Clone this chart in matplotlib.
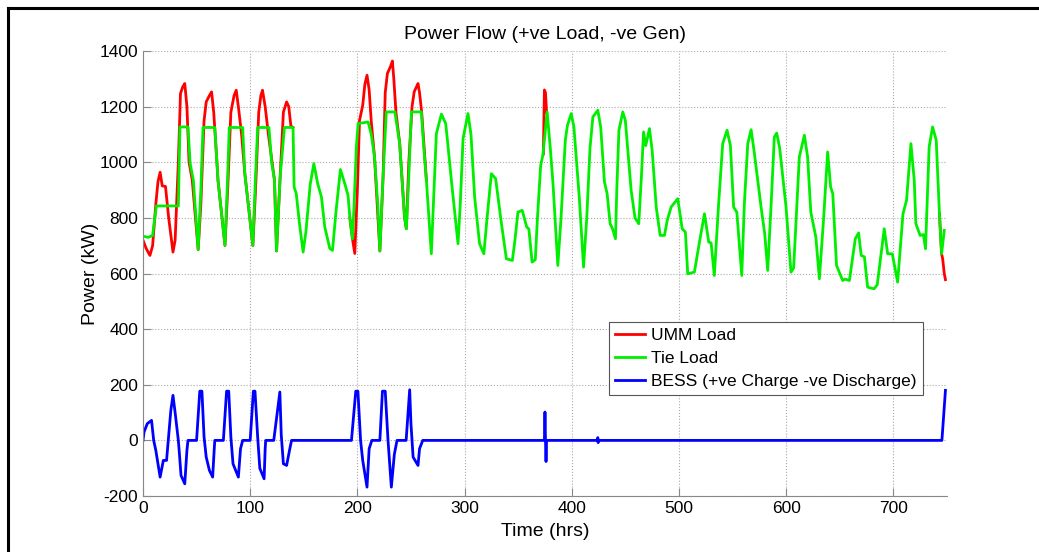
import matplotlib
matplotlib.use("Agg")
import matplotlib.pyplot as plt
from matplotlib.lines import Line2D
import numpy as np

plt.rcParams['font.family'] = ['Liberation Sans', 'DejaVu Sans']
plt.rcParams['axes.unicode_minus'] = False

# Tie Load (kW) - key points (time hrs, power kW)
tie_t = [0, 5, 9, 11, 12.5, 33, 34.5, 42, 44, 47, 51.5, 54, 56, 67, 70, 76.5, 79, 80.5, 93, 95,
         102.5, 105, 107, 117.5, 120, 122.7, 124.6, 128, 132, 140, 141, 143, 146, 149.4, 152, 156,
         159.4, 163, 166.5, 169.6, 174.3, 176.8, 180, 184.2, 188.3, 191.3, 193, 195.4, 197, 199,
         200.7, 210, 213, 216, 219, 221, 224, 227, 235, 239.5, 244, 245.7, 248, 250.4, 259.7, 262,
         264.4, 269, 272, 273.7, 278.4, 282.4, 284, 287.7, 293.9, 296, 298.6, 303.2, 306, 309.4,
         314, 318, 321, 325, 329, 334, 339, 344.6, 347, 349.8, 353.8, 358, 360, 363, 366, 368,
         371, 373, 375, 377, 380, 382.5, 387, 390, 394, 396, 399.5, 402, 407, 411, 414, 417,
         419.7, 424.3, 427, 430.5, 433, 435.8, 438, 440.8, 442, 444, 447.6, 450, 455.4, 459,
         462.5, 465, 467, 469, 472.5, 475, 478.8, 482.5, 486.5, 489, 492.7, 498.9, 503, 506,
         508.2, 514.4, 519, 523.8, 527.8, 530, 533, 537, 540.8, 544.9, 548, 551, 554, 558.6,
         561, 564.2, 567.3, 570, 576.6, 580, 582.8, 586, 589, 591.2, 594, 599.9, 604.5, 607,
         610, 612.3, 617, 620, 623, 627.7, 631, 635, 638.7, 641.5, 643.5, 647, 652.7, 655, 659,
         664.5, 667.6, 670, 673, 676, 682, 685, 687.4, 691.5, 694.7, 699, 704, 709, 712.3,
         716.4, 719.5, 721, 725, 728, 730, 733.4, 736.6, 740, 743, 745, 747.5]
tie_p = [734, 730, 737, 800, 843, 843, 1127, 1127, 996, 935, 686, 900, 1125, 1125, 935, 701, 950, 1125, 1125, 960,
         701, 950, 1125, 1125, 1000, 935, 681, 950, 1125, 1125, 911, 887, 780, 677, 750, 920,
         995, 923, 875, 767, 690, 683, 820, 974, 923, 881, 800, 725, 850, 1050,
         1139, 1145, 1100, 1019, 850, 681, 950, 1181, 1181, 1067, 803, 761, 950, 1181, 1181, 1050,
         935, 671, 950, 1103, 1173, 1139, 1080, 935, 707, 850, 1085, 1175, 1100, 875,
         707, 671, 800, 959, 941, 791, 653, 647, 720, 821, 827, 767, 760, 641, 650, 800,
         989, 1025, 1100, 1181, 1050, 923, 629, 800, 1080, 1133, 1175, 1127, 875, 623, 800, 1050,
         1163, 1187, 1127, 929, 887, 779, 761, 725, 900, 1115, 1181, 1150, 899, 800,
         779, 950, 1109, 1060, 1121, 1043, 839, 737, 737, 790, 839, 869, 761, 749,
         599, 605, 710, 815, 713, 710, 593, 850, 1067, 1115, 1060, 839, 820, 593,
         850, 1067, 1117, 1043, 839, 743, 611, 850, 1091, 1105, 1050, 839, 605, 620,
         850, 1019, 1097, 1020, 821, 731, 581, 800, 1037, 911, 887, 629, 575, 580, 575,
         725, 746, 665, 660, 551, 545, 560, 635, 761, 671, 671, 569, 815, 863,
         1067, 935, 779, 737, 740, 689, 1055, 1127, 1079, 815, 671, 755]

# UMM Load (kW) - only where it departs from the tie load (NaN = gap)
umm_t = [0, 3, 6.5, 9, 12, 14, 16, 18, 21, 24, 28, 30, 33, 35, 37, 39, 41, 43, 46, 51.5, 54, 57,
         59, 62, 64, 66, 69, 70, 76.5, 79, 82, 85, 87, 89, 92, 95, 102.5, 105, 108, 110, 111.5,
         114, 117, 122.7, 124.6, 128, 131, 134, 136, 138, 140, np.nan,
         193, 195.4, 197.6, 200, 202, 205, 207, 209, 211, 213, 216, 221, 224, 226, 228, 231,
         232.7, 234, 236, 239.5, 244, 245.7, 248, 251, 253, 255, 256.6, 258, 260, 264.4, np.nan,
         373.5, 374.5, 375.5, 376.5, np.nan,
         743, 745, 746, 747.5, 748.6]
umm_p = [720, 690, 665, 700, 850, 930, 964, 915, 913, 800, 677, 720, 1000, 1247, 1270, 1283, 1200, 1000, 935, 686, 850, 1150,
         1217, 1240, 1253, 1180, 1000, 935, 701, 900, 1180, 1240, 1259, 1200, 1100, 960, 701, 900, 1180, 1240, 1259,
         1200, 1100, 935, 681, 950, 1180, 1217, 1200, 1130, 1125, np.nan,
         800, 725, 672, 900, 1150, 1205, 1280, 1313, 1260, 1145, 1019, 681, 950, 1250, 1319, 1345,
         1364, 1300, 1180, 1067, 803, 761, 1000, 1200, 1253, 1270, 1283, 1250, 1180, 935, np.nan,
         1030, 1260, 1250, 1180, np.nan,
         815, 671, 653, 600, 578]

# BESS (kW) +ve charge, -ve discharge
bess_t = [0, 1, 4, 8, 10, 12, 16, 19, 22, 26, 28, 30, 33, 34, 35.5, 39, 41, 42, 50, 53, 55, 57, 59,
          62, 65, 66.5, 67, 75, 78, 80, 82, 84, 89, 91, 93, 100, 103, 104.5, 107, 109, 113, 114,
          114.5, 122, 127.7, 129, 131, 134, 137, 138.6, 194.5, 198.5, 200.5, 203, 205, 209, 211,
          213.5, 221, 223.4, 226, 228.6, 231.7, 234.5, 237, 245.5, 248.8, 250, 252, 256.6, 258,
          261, 374.5, 375, 375.5, 376, 376.5, 424, 424.3, 424.6, 425, 745.3, 748.6]
bess_p = [0, 30, 60, 72, 0, -36, -132, -72, -72, 108, 162, 100, 0, -48, -126, -156, -36, 0, 0, 177, 177, 12, -60,
          -108, -132, -30, 0, 0, 177, 177, 12, -84, -132, -30, 0, 0, 177, 177, 12, -100, -138, -30,
          0, 0, 174, 20, -84, -90, -30, 0, 0, 177, 177, 0, -72, -168, -30,
          0, 0, 177, 177, 0, -168, -50, 0, 0, 182, 60, -60, -90, -30,
          0, 0, 102, 0, -76, 0, 0, 10, -8, 0, 0, 180]

fig = plt.figure(figsize=(10.39, 5.52), dpi=100)
ax = fig.add_axes([0.1376, 0.1014, 0.7738, 0.8062])

lw = 2.0
ax.plot(umm_t, umm_p, color='#ff0000', linewidth=lw, label='UMM Load')
ax.plot(tie_t, tie_p, color='#00ee00', linewidth=lw, label='Tie Load')
ax.plot(bess_t, bess_p, color='#0000ff', linewidth=lw, label='BESS (+ve Charge -ve Discharge)')

ax.set_xlim(0, 750)
ax.set_ylim(-200, 1400)
ax.set_xticks(range(0, 800, 100))
ax.set_yticks(range(-200, 1600, 200))
ax.grid(True, linestyle=':', color='#aaaaaa', linewidth=0.8)
for s in ['top', 'right']:
    ax.spines[s].set_visible(False)
for s in ['left', 'bottom']:
    ax.spines[s].set_color('#888888')
ax.tick_params(direction='in', length=6, color='#888888', labelsize=12.5, labelcolor='black')

ax.set_title('Power Flow (+ve Load, -ve Gen)', fontsize=14, pad=9)
ax.set_xlabel('Time (hrs)', fontsize=14, labelpad=5)
ax.set_ylabel('Power (kW)', fontsize=14, labelpad=0)

leg = ax.legend(loc='upper left', bbox_to_anchor=(0.5796, 0.391), borderaxespad=0,
                fontsize=12.5, frameon=True,
                fancybox=False, edgecolor='#555555', framealpha=1, handlelength=1.7,
                borderpad=0.35, labelspacing=0.45, handletextpad=0.4)
leg.get_frame().set_linewidth(0.8)

# outer frame (top and left edges of the exported figure box)
fig.add_artist(Line2D([8 / 1039, 1], [1 - 8 / 552, 1 - 8 / 552], color='black', linewidth=2.2))
fig.add_artist(Line2D([8 / 1039, 8 / 1039], [0, 1 - 8 / 552], color='black', linewidth=2.2))

fig.savefig('out.png', dpi=100)
